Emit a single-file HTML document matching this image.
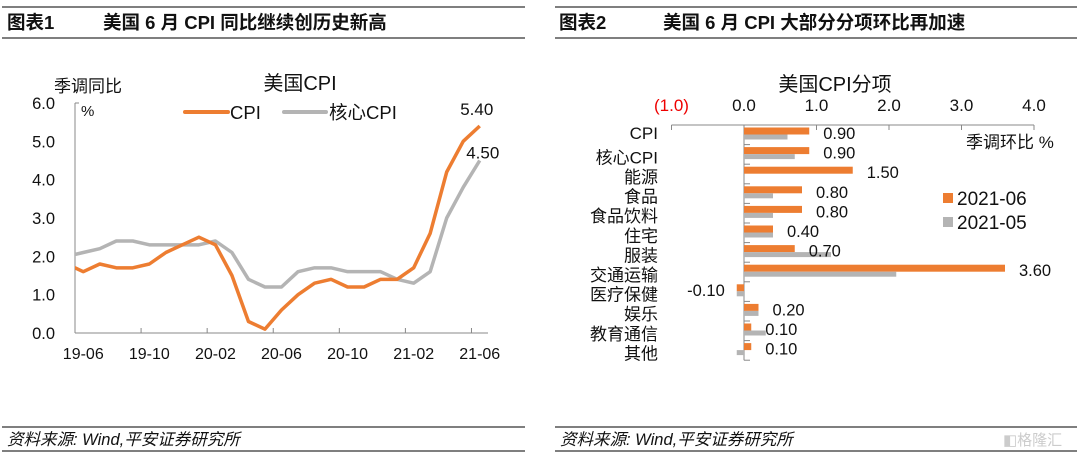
<!DOCTYPE html>
<html><head><meta charset="utf-8">
<style>
html,body{margin:0;padding:0;background:#fff;}
svg{display:block;font-family:"Liberation Sans","Noto Sans CJK SC",sans-serif;}
</style></head>
<body>
<svg id="s" width="1080" height="458" viewBox="0 0 1080 458" xmlns="http://www.w3.org/2000/svg">
  <g>
    <line x1="2" y1="7" x2="525" y2="7" stroke="#555" stroke-width="1.5"/>
    <line x1="2" y1="38" x2="525" y2="38" stroke="#555" stroke-width="1.5"/>
    <text x="7" y="29" font-size="18.5" font-weight="bold" fill="#111">图表1</text>
    <text x="103" y="29" font-size="18.5" font-weight="bold" fill="#111">美国 6 月 CPI 同比继续创历史新高</text>
  </g>
  <g>
    <line x1="555" y1="7" x2="1077" y2="7" stroke="#555" stroke-width="1.5"/>
    <line x1="555" y1="38" x2="1077" y2="38" stroke="#555" stroke-width="1.5"/>
    <text x="559" y="29" font-size="18.5" font-weight="bold" fill="#111">图表2</text>
    <text x="663" y="29" font-size="18.5" font-weight="bold" fill="#111">美国 6 月 CPI 大部分分项环比再加速</text>
  </g>
  <g>
    <line x1="2" y1="427" x2="525" y2="427" stroke="#555" stroke-width="1.5"/>
    <line x1="2" y1="451" x2="525" y2="451" stroke="#555" stroke-width="1.5"/>
    <text x="7" y="445" font-size="16.5" font-style="italic" fill="#111">资料来源: Wind,平安证券研究所</text>
  </g>
  <g>
    <line x1="555" y1="427" x2="1077" y2="427" stroke="#555" stroke-width="1.5"/>
    <line x1="555" y1="451" x2="1077" y2="451" stroke="#555" stroke-width="1.5"/>
    <text x="560" y="445" font-size="16.5" font-style="italic" fill="#111">资料来源: Wind,平安证券研究所</text>
    <text x="1003" y="445" font-size="15" fill="#ccc">◧格隆汇</text>
  </g>
  <g id="c1"></g>
  <g id="c2"></g>
</svg>
<script>
const lineCats = ["19-05","19-06","19-07","19-08","19-09","19-10","19-11","19-12","20-01","20-02","20-03","20-04","20-05","20-06","20-07","20-08","20-09","20-10","20-11","20-12","21-01","21-02","21-03","21-04","21-05","21-06"];
const cpiValues = [1.8,1.6,1.8,1.7,1.7,1.8,2.1,2.3,2.5,2.3,1.5,0.3,0.1,0.6,1.0,1.3,1.4,1.2,1.2,1.4,1.4,1.7,2.6,4.2,5.0,5.4];
const coreValues = [2.0,2.1,2.2,2.4,2.4,2.3,2.3,2.3,2.3,2.4,2.1,1.4,1.2,1.2,1.6,1.7,1.7,1.6,1.6,1.6,1.4,1.3,1.6,3.0,3.8,4.5];
const lineYTicks = [0,1,2,3,4,5,6];
const lineXLabels = ["19-06","19-10","20-02","20-06","20-10","21-02","21-06"];

const barCats = ["CPI","核心CPI","能源","食品","食品饮料","住宅","服装","交通运输","医疗保健","娱乐","教育通信","其他"];
const junValues = [0.9,0.9,1.5,0.8,0.8,0.4,0.7,3.6,-0.1,0.2,0.1,0.1];
const mayValues = [0.6,0.7,0,0.4,0.4,0.4,1.2,2.1,-0.1,0.2,0.3,-0.1];
const barXTicks = [-1,0,1,2,3,4];

const NS="http://www.w3.org/2000/svg";
function mk(parent,tag,attrs,text){const e=document.createElementNS(NS,tag);for(const k in attrs)e.setAttribute(k,attrs[k]);if(text!==undefined)e.textContent=text;parent.appendChild(e);return e;}
const ORANGE="#ED7D31", GRAY="#B4B4B4";

// ---- Chart 1 ----
(function(){
  const g=document.getElementById('c1');
  const X0=75,X1=488,Y0=333,YT=103;
  const nb=lineCats.length-1;
  const bw=(X1-X0)/nb;
  const x=i=>X0+(i-1+0.5)*bw;
  const y=v=>Y0-(v/6)*(Y0-YT);
  const defs=mk(g,'defs',{});
  const cp=mk(defs,'clipPath',{id:'clip1'});
  mk(cp,'rect',{x:X0,y:60,width:X1-X0+10,height:300});
  let a=mk(g,'line',{x1:X0,y1:YT,x2:X0,y2:Y0,stroke:'#888','stroke-width':1});
  
  a=mk(g,'line',{x1:X0,y1:Y0,x2:X1,y2:Y0,stroke:'#888','stroke-width':1});
  
  mk(g,'line',{x1:X0,y1:YT,x2:X0+4,y2:YT,stroke:'#888'});
  lineYTicks.forEach(v=>{
    const t=mk(g,'text',{x:55,y:y(v)+6,'font-size':16.5,'text-anchor':'end',fill:'#111'},v.toFixed(1));
    
  });
  lineXLabels.forEach((lab,k)=>{
    const i=lineCats.indexOf(lab);
    if(k>0) mk(g,'line',{x1:x(i)-bw/2,y1:Y0,x2:x(i)-bw/2,y2:Y0-5,stroke:'#888'});
    const t=mk(g,'text',{x:x(i),y:359,'font-size':16,'text-anchor':'middle',fill:'#111'},lab);
    
  });
  function series(vals,color,name){
    const p=mk(g,'polyline',{points:vals.map((v,i)=>x(i)+','+y(v)).join(' '),fill:'none',stroke:color,'stroke-width':3.5,'stroke-linejoin':'round','clip-path':'url(#clip1)'});
    
  }
  series(coreValues,GRAY,'core-cpi-line');
  series(cpiValues,ORANGE,'cpi-line');
  const last=lineCats.length-1;
  let t=mk(g,'text',{x:x(last)-3,y:y(cpiValues[last])-11,'font-size':17,'text-anchor':'middle',fill:'#111'},cpiValues[last].toFixed(2));
  
  t=mk(g,'text',{x:x(last)+3,y:y(coreValues[last])-2,'font-size':17,'text-anchor':'middle',fill:'#111'},coreValues[last].toFixed(2));
  
  t=mk(g,'text',{x:300,y:90,'font-size':20,'text-anchor':'middle',fill:'#111'},'美国CPI');
  
  t=mk(g,'text',{x:54,y:92,'font-size':17,fill:'#111'},'季调同比');
  
  t=mk(g,'text',{x:81,y:116,'font-size':15,fill:'#111'},'%');
  
  const l1=mk(g,'g',{});
  
  mk(l1,'line',{x1:185,y1:112,x2:228,y2:112,stroke:ORANGE,'stroke-width':4,'stroke-linecap':'round'});
  mk(l1,'text',{x:230,y:119,'font-size':18.5,fill:'#111'},'CPI');
  const l2=mk(g,'g',{});
  
  mk(l2,'line',{x1:284,y1:112,x2:326,y2:112,stroke:GRAY,'stroke-width':4,'stroke-linecap':'round'});
  mk(l2,'text',{x:329,y:119,'font-size':18.5,fill:'#111'},'核心CPI');
})();

// ---- Chart 2 ----
(function(){
  const g=document.getElementById('c2');
  const XZ=744, U=72.5, YT=125, RH=19.6;
  const x=v=>XZ+v*U;
  const rowTop=i=>YT+i*RH;
  let a=mk(g,'line',{x1:x(-1),y1:YT,x2:x(4),y2:YT,stroke:'#888'});
  
  barXTicks.forEach(v=>{
    mk(g,'line',{x1:x(v),y1:YT,x2:x(v),y2:YT+5,stroke:'#888'});
    const neg=v<0;
    const t=mk(g,'text',{x:x(v),y:111,'font-size':17,'text-anchor':'middle',fill:neg?'#E00':'#111'},neg?'('+Math.abs(v).toFixed(1)+')':v.toFixed(1));
    
  });
  a=mk(g,'line',{x1:XZ,y1:YT,x2:XZ,y2:rowTop(barCats.length),stroke:'#888'});
  
  barCats.forEach((c,i)=>{
    mk(g,'line',{x1:XZ,y1:rowTop(i+1),x2:XZ+6,y2:rowTop(i+1),stroke:'#888'});
    const t=mk(g,'text',{x:658,y:rowTop(i)+RH/2+(i===0?4:9),'font-size':17,'text-anchor':'end',fill:'#111'},c);
    
    const vj=junValues[i], vm=mayValues[i];
    const b1=mk(g,'rect',{x:Math.min(x(0),x(vj)),y:rowTop(i)+2.5,width:Math.abs(x(vj)-x(0)),height:7,fill:ORANGE});
    
    const b2=mk(g,'rect',{x:Math.min(x(0),x(vm)),y:rowTop(i)+9.5,width:Math.abs(x(vm)-x(0)),height:5,fill:GRAY});
    
    const lt=mk(g,'text',{x:vj<0?x(vj)-12:x(vj)+14,y:rowTop(i)+14,'font-size':16.5,'text-anchor':vj<0?'end':'start',fill:'#111'},vj.toFixed(2));
    
  });
  let t=mk(g,'text',{x:835,y:91,'font-size':20,'text-anchor':'middle',fill:'#111'},'美国CPI分项');
  
  t=mk(g,'text',{x:966,y:148,'font-size':17,fill:'#111'},'季调环比 %');
  
  const l1=mk(g,'g',{});
  
  mk(l1,'rect',{x:943,y:193,width:10,height:10,fill:ORANGE});
  mk(l1,'text',{x:957,y:205,'font-size':19,fill:'#111'},'2021-06');
  const l2=mk(g,'g',{});
  
  mk(l2,'rect',{x:943,y:217,width:10,height:10,fill:GRAY});
  mk(l2,'text',{x:957,y:229,'font-size':19,fill:'#111'},'2021-05');
})();
</script>
</body></html>
